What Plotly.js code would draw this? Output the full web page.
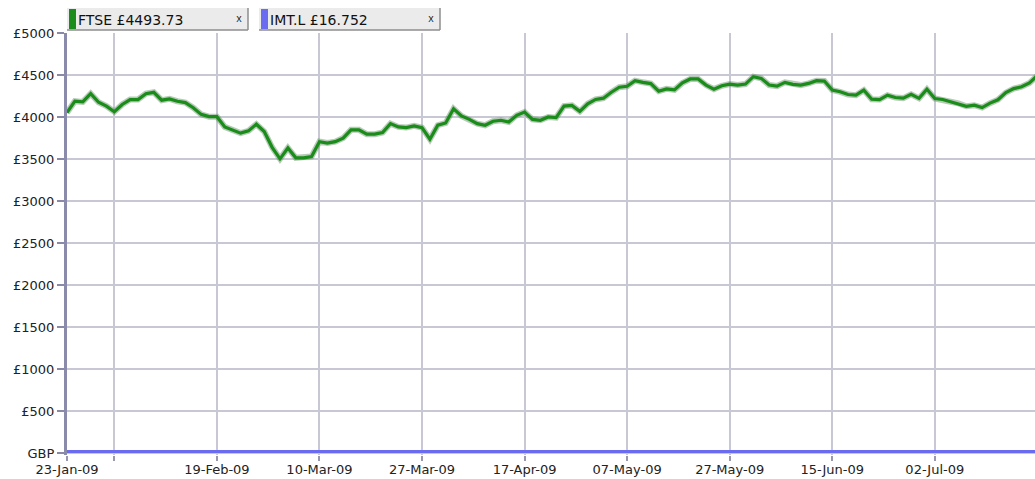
<!DOCTYPE html>
<html>
<head>
<meta charset="utf-8">
<script src="https://cdn.plot.ly/plotly-3.0.1.min.js"></script>
<style>
  html, body { margin: 0; padding: 0; background: #ffffff; }
  #chart { width: 1035px; height: 479px; }
</style>
</head>
<body>
<div id="chart"></div>
<script>
// Trading days (category axis)
var dates = [
  '23-Jan-09','26-Jan-09','27-Jan-09','28-Jan-09','29-Jan-09','30-Jan-09',
  '02-Feb-09','03-Feb-09','04-Feb-09','05-Feb-09','06-Feb-09',
  '09-Feb-09','10-Feb-09','11-Feb-09','12-Feb-09','13-Feb-09',
  '16-Feb-09','17-Feb-09','18-Feb-09','19-Feb-09','20-Feb-09',
  '23-Feb-09','24-Feb-09','25-Feb-09','26-Feb-09','27-Feb-09',
  '02-Mar-09','03-Mar-09','04-Mar-09','05-Mar-09','06-Mar-09',
  '09-Mar-09','10-Mar-09','11-Mar-09','12-Mar-09','13-Mar-09',
  '16-Mar-09','17-Mar-09','18-Mar-09','19-Mar-09','20-Mar-09',
  '23-Mar-09','24-Mar-09','25-Mar-09','26-Mar-09','27-Mar-09',
  '30-Mar-09','31-Mar-09','01-Apr-09','02-Apr-09','03-Apr-09',
  '06-Apr-09','07-Apr-09','08-Apr-09','09-Apr-09',
  '14-Apr-09','15-Apr-09','16-Apr-09','17-Apr-09',
  '20-Apr-09','21-Apr-09','22-Apr-09','23-Apr-09','24-Apr-09',
  '27-Apr-09','28-Apr-09','29-Apr-09','30-Apr-09','01-May-09',
  '05-May-09','06-May-09','07-May-09','08-May-09',
  '11-May-09','12-May-09','13-May-09','14-May-09','15-May-09',
  '18-May-09','19-May-09','20-May-09','21-May-09','22-May-09',
  '26-May-09','27-May-09','28-May-09','29-May-09',
  '01-Jun-09','02-Jun-09','03-Jun-09','04-Jun-09','05-Jun-09',
  '08-Jun-09','09-Jun-09','10-Jun-09','11-Jun-09','12-Jun-09',
  '15-Jun-09','16-Jun-09','17-Jun-09','18-Jun-09','19-Jun-09',
  '22-Jun-09','23-Jun-09','24-Jun-09','25-Jun-09','26-Jun-09',
  '29-Jun-09','30-Jun-09','01-Jul-09','02-Jul-09','03-Jul-09',
  '06-Jul-09','07-Jul-09','08-Jul-09','09-Jul-09','10-Jul-09',
  '13-Jul-09','14-Jul-09','15-Jul-09','16-Jul-09','17-Jul-09',
  '20-Jul-09','21-Jul-09'
];

// FTSE closing values (GBP)
var ftse = [
  4052, 4188, 4180, 4278, 4176, 4130,
  4063, 4149, 4208, 4208, 4278,
  4294, 4200, 4216, 4188, 4172,
  4110, 4031, 4004, 4004, 3882,
  3843, 3808, 3835, 3914, 3827,
  3639, 3502, 3631, 3514, 3514,
  3530, 3706, 3690, 3706, 3749,
  3847, 3847, 3796, 3796, 3815,
  3921, 3882, 3874, 3894, 3874,
  3736, 3902, 3929, 4098, 4012,
  3972, 3921, 3902, 3949,
  3961, 3941, 4020, 4059,
  3972, 3961, 4000, 3992, 4130,
  4138, 4067, 4157, 4209, 4224,
  4295, 4354, 4366, 4433,
  4413, 4398, 4307, 4335, 4323,
  4406, 4453, 4453, 4380, 4332,
  4372, 4392, 4380, 4392,
  4480, 4460, 4380, 4368, 4412,
  4388, 4380, 4400, 4432, 4428,
  4320, 4300, 4268, 4260, 4320,
  4212, 4208, 4260, 4232, 4225,
  4270, 4222, 4330, 4220, 4208,
  4182, 4162, 4128, 4140, 4112,
  4165, 4205, 4290, 4338, 4360,
  4405, 4493.73
];

// IMT.L (GBP) - tiny on this scale, lies along the bottom
var imtDates = ['23-Jan-09','19-Feb-09','10-Mar-09','27-Mar-09','17-Apr-09','07-May-09','27-May-09','15-Jun-09','02-Jul-09','21-Jul-09'];
var imt = [17.9, 17.3, 15.6, 16.1, 15.6, 16.2, 16.5, 16.4, 16.3, 16.752];

// Axis ticks
var tickDates  = ['23-Jan-09','02-Feb-09','19-Feb-09','10-Mar-09','27-Mar-09','17-Apr-09','07-May-09','27-May-09','15-Jun-09','02-Jul-09'];
var tickLabels = ['23-Jan-09','','19-Feb-09','10-Mar-09','27-Mar-09','17-Apr-09','07-May-09','27-May-09','15-Jun-09','02-Jul-09'];
var yTicks      = [0, 500, 1000, 1500, 2000, 2500, 3000, 3500, 4000, 4500, 5000];
var yTickLabels = ['GBP','£500','£1000','£1500','£2000','£2500','£3000','£3500','£4000','£4500','£5000'];

var legendNames = ['FTSE £4493.73', 'IMT.L £16.752'];
var ftseColor = '#1a8c1a';
var imtColor = '#6b6bf2';

// pixel -> paper helpers (plot area: x 67..1035, y 33..455)
var L = 67, T = 33, W = 968, H = 422;
function px(x) { return (x - L) / W; }
function py(y) { return (T + H - y) / H; }

var traces = [
  { x: dates, y: ftse, type: 'scatter', mode: 'lines', hoverinfo: 'skip',
    line: { color: 'rgba(95,135,95,0.45)', width: 6 }, showlegend: false },
  { x: dates, y: ftse, type: 'scatter', mode: 'lines', name: 'FTSE',
    line: { color: ftseColor, width: 3.2 }, showlegend: false },
  { x: imtDates, y: imt, type: 'scatter', mode: 'lines', name: 'IMT.L',
    line: { color: imtColor, width: 3 }, showlegend: false }
];

var shapes = [];
var annotations = [];
var boxes = [
  { x0: 67, x1: 248, color: ftseColor, name: legendNames[0] },
  { x0: 259, x1: 440, color: imtColor, name: legendNames[1] }
];
boxes.forEach(function (b) {
  var y0 = 8, y1 = 30;
  shapes.push({ type: 'rect', xref: 'paper', yref: 'paper', x0: px(b.x0), x1: px(b.x1), y0: py(y1), y1: py(y0),
    fillcolor: '#ebebeb', line: { width: 0 }, layer: 'above' });
  shapes.push({ type: 'line', xref: 'paper', yref: 'paper', x0: px(b.x1), x1: px(b.x1), y0: py(y1), y1: py(y0),
    line: { color: '#8e8e8e', width: 1.5 }, layer: 'above' });
  shapes.push({ type: 'line', xref: 'paper', yref: 'paper', x0: px(b.x0), x1: px(b.x1), y0: py(y1), y1: py(y1),
    line: { color: '#8e8e8e', width: 1.5 }, layer: 'above' });
  shapes.push({ type: 'rect', xref: 'paper', yref: 'paper', x0: px(b.x0 + 2), x1: px(b.x0 + 9), y0: py(y1 - 1), y1: py(y0 + 1),
    fillcolor: b.color, line: { width: 0 }, layer: 'above' });
  annotations.push({ xref: 'paper', yref: 'paper', x: px(b.x0 + 9), y: py(19.5), xanchor: 'left', yanchor: 'middle',
    text: b.name, showarrow: false, font: { family: 'DejaVu Sans, sans-serif', size: 14, color: '#111111' } });
  annotations.push({ xref: 'paper', yref: 'paper', x: px(b.x1 - 9), y: py(19.5), xanchor: 'center', yanchor: 'middle',
    text: 'x', showarrow: false, font: { family: 'Liberation Mono, monospace', size: 10, color: '#222222' } });
});

var layout = {
  width: 1035, height: 479,
  margin: { l: L, r: 0, t: T, b: 479 - T - H, pad: 0 },
  paper_bgcolor: '#ffffff', plot_bgcolor: '#ffffff',
  showlegend: false,
  font: { family: 'DejaVu Sans, sans-serif', size: 13, color: '#222222' },
  xaxis: {
    type: 'category',
    categoryorder: 'array', categoryarray: dates,
    range: [0, 122.7],
    tickmode: 'array', tickvals: tickDates, ticktext: tickLabels,
    showgrid: true, gridcolor: '#c8c8d4', gridwidth: 2,
    ticks: 'outside', ticklen: 5, tickwidth: 2, tickcolor: '#9898b0',
    ticklabelstandoff: -3,
    showline: false, zeroline: false,
    tickangle: 0,
    tickfont: { family: 'DejaVu Sans, sans-serif', size: 13, color: '#222222' }
  },
  yaxis: {
    range: [-24, 5000],
    tickmode: 'array', tickvals: yTicks, ticktext: yTickLabels,
    showgrid: true, gridcolor: '#c8c8d4', gridwidth: 2,
    ticks: 'outside', ticklen: 7, tickwidth: 2, tickcolor: '#8a8aa8',
    showline: true, linecolor: '#8a8aaa', linewidth: 3,
    zeroline: false,
    tickfont: { family: 'DejaVu Sans, sans-serif', size: 13, color: '#222222' }
  },
  shapes: shapes,
  annotations: annotations
};

Plotly.newPlot('chart', traces, layout, { displayModeBar: false, staticPlot: true });
</script>
</body>
</html>
